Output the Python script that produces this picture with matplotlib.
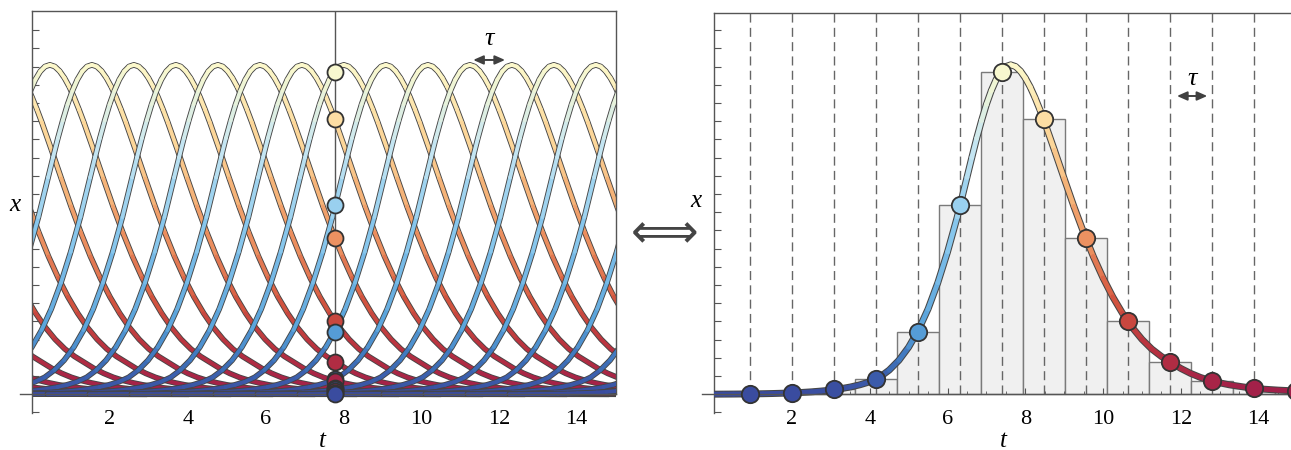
import numpy as np
import matplotlib
matplotlib.use("Agg")
import matplotlib.pyplot as plt
from matplotlib.collections import LineCollection
from matplotlib.colors import LinearSegmentedColormap
import matplotlib.transforms as mtransforms

# ---------------- data ----------------
# pulse shape x(t) (right panel); one y tick = 0.01
pulse_t = np.concatenate([np.arange(0.0, 6.5, 0.25),
                          np.arange(6.5, 8.5, 0.125),
                          np.arange(8.5, 22.01, 0.25)])
pulse_x = [0.00007, 0.00010, 0.00013, 0.00018, 0.00024, 0.00032, 0.00043, 0.00058,
           0.00077, 0.00102, 0.00135, 0.00178, 0.00233, 0.00306, 0.00400, 0.00524,
           0.00686, 0.00930, 0.01330, 0.01870, 0.02590, 0.03520, 0.04690, 0.06130,
           0.07820, 0.09740,
           0.1192, 0.1301, 0.1407, 0.1504, 0.1593, 0.1668, 0.1729, 0.1774,
           0.1801, 0.1810, 0.1801, 0.1776, 0.1738, 0.1689, 0.1630, 0.1564,
           0.14930, 0.13410, 0.11850, 0.10320, 0.08890, 0.07570, 0.06390, 0.05350,
           0.04450, 0.03670, 0.03020, 0.02490, 0.02080, 0.01750, 0.01420, 0.01150,
           0.00930, 0.00760, 0.00630, 0.00520, 0.00440, 0.00360, 0.00300, 0.00265,
           0.00230, 0.00205, 0.00180, 0.00160, 0.00140, 0.00120, 0.00110, 0.00100,
           0.00090, 0.00080, 0.00070, 0.00060, 0.00050, 0.00045, 0.00040, 0.00035,
           0.00030, 0.00025, 0.00020, 0.00018, 0.00015, 0.00012, 0.00010, 0.00008,
           0.00006, 0.00005, 0.00004, 0.00003, 0.00002, 0.00001, 0.00000]

# sampled points (dots / bars), spacing tau
dot_t = [0.92, 2.00, 3.08, 4.16, 5.24, 6.32, 7.40, 8.48, 9.56, 10.64, 11.72, 12.80, 13.88, 14.96]
dot_x = [0.0003, 0.0008, 0.0027, 0.0084, 0.0340, 0.1040, 0.1770, 0.1510, 0.0860, 0.0400,
         0.0180, 0.0073, 0.0033, 0.0020]
tau = 1.08
t_star = 7.79          # vertical cut in the left panel
peak_t = 7.625         # time of the pulse maximum

# time shifts of the copies drawn in the left panel
left_shifts = [12.27, 11.19, 10.11, 9.03, 7.95, 6.87, 5.79, 4.71, 3.63, 2.55, 1.47, 0.39,
               -0.69, -1.77, -2.85, -3.93, -5.01, -6.09, -7.17, -8.25, -9.33, -10.41,
               -11.49, -12.57, -13.65, -14.73, -15.81, -16.89, -17.97, -19.05]

xticks = [2, 4, 6, 8, 10, 12, 14]

# ---------------- styling ----------------
W, H = 1291, 450
SERIF = ['Liberation Serif', 'DejaVu Serif']
plt.rcParams['font.family'] = SERIF
GRAY = '#555555'

cmap = LinearSegmentedColormap.from_list('temp', [
    (0.00, '#3a4c9f'), (0.05, '#3d72ba'), (0.10, '#58a2da'), (0.26, '#8ccaee'),
    (0.38, '#c8e7f2'), (0.50, '#fcf9cc'), (0.60, '#fdd99c'), (0.70, '#f5b176'),
    (0.78, '#ea8a5c'), (0.86, '#d4573f'), (0.93, '#b8323f'), (1.00, '#a01f4a')])

pt = np.asarray(pulse_t)
px = np.asarray(pulse_x)
vmax = px.max()


def phase_param(t, v):
    v = np.asarray(v, float)
    rising = np.asarray(t) < peak_t
    return np.where(rising, 0.5 * v / vmax, 1.0 - 0.5 * v / vmax)


par = phase_param(pt, px)


def tube(ax, shift, lw_out, lw_in, z, xmin=-50, xmax=50):
    x = pt + shift
    m = (x >= xmin - 0.3) & (x <= xmax + 0.3)
    xs, ys, ps = x[m], px[m], par[m]
    if len(xs) < 2:
        return
    pts = np.column_stack([xs, ys]).reshape(-1, 1, 2)
    segs = np.concatenate([pts[:-1], pts[1:]], axis=1)
    cols = cmap(0.5 * (ps[:-1] + ps[1:]))
    ax.plot(xs, ys, color='#464646', lw=lw_out, solid_capstyle='round',
            solid_joinstyle='round', zorder=z)
    lc = LineCollection(segs, colors=cols, linewidths=lw_in, capstyle='round',
                        joinstyle='round', zorder=z + 0.01)
    ax.add_collection(lc)


def setup(ax, ytop, right_spine):
    ax.set_xlim(0, 15)
    ax.set_ylim(-0.01044, ytop)
    for s in ['top', 'left', 'right']:
        ax.spines[s].set_color(GRAY)
        ax.spines[s].set_linewidth(1.0)
    if right_spine:
        ax.spines['right'].set_bounds(0, ytop)
    else:
        ax.spines['right'].set_visible(False)
    ax.spines['bottom'].set_position(('data', 0))
    ax.spines['bottom'].set_visible(False)
    trans = mtransforms.blended_transform_factory(ax.transAxes, ax.transData)
    ax.plot([-12 / 583.3, 1.0], [0, 0], color=GRAY, lw=1.0, transform=trans,
            clip_on=False, zorder=6)
    ax.set_yticks(np.round(np.arange(-0.01, 0.2001, 0.01), 3))
    ax.set_yticklabels([])
    ax.set_xticks(xticks)
    ax.set_xticklabels([str(v) for v in xticks], fontsize=16, family=SERIF)
    ax.set_xticks(np.arange(0.5, 15, 0.5), minor=True)
    ax.tick_params(axis='y', direction='in', length=5, width=0.8, color=GRAY)
    ax.tick_params(axis='x', which='major', direction='in', length=4.5, width=0.8,
                   color=GRAY, pad=11)
    ax.tick_params(axis='x', which='minor', direction='in', length=2.5, width=0.6,
                   color=GRAY)
    ax.patch.set_alpha(0)


fig = plt.figure(figsize=(W / 100, H / 100), dpi=100)
axL = fig.add_axes([32.2 / W, 1 - 413.3 / H, 583.3 / W, (413.3 - 11.0) / H])
axR = fig.add_axes([714.2 / W, 1 - 413.3 / H, 583.3 / W, (413.3 - 13.3) / H])
ytopL = (394.3 - 11.0) / 1820
ytopR = (394.3 - 13.3) / 1820
setup(axL, ytopL, True)
setup(axR, ytopR, False)

# ---------------- left panel ----------------
for i, s in enumerate(sorted(left_shifts)):
    tube(axL, s, 4.1, 2.8, 2 + i * 0.02, 0, 15)
axL.plot([t_star, t_star], [0, ytopL], color=GRAY, lw=1.0, zorder=3.5)
order = np.argsort(dot_x)[::-1]
for k, j in enumerate(order):
    axL.plot(t_star, dot_x[j], 'o', ms=11.5, mfc=cmap(phase_param(dot_t[j], dot_x[j])),
             mec='#333333', mew=1.3, zorder=10 + k * 0.01, clip_on=False)
axL.annotate('', xy=(12.16, 0.1837), xytext=(11.34, 0.1837),
             arrowprops=dict(arrowstyle='<|-|>,head_length=0.5,head_width=0.22',
                             color='#404040', lw=1.4, shrinkA=0, shrinkB=0,
                             mutation_scale=12))
axL.text(11.75, 0.1950, 'τ', fontsize=19, style='italic', ha='center', va='center')

# ---------------- right panel ----------------
axR.bar(dot_t, dot_x, width=tau, color='#f0f0f0', edgecolor='#7a7a7a', lw=1.0, zorder=1)
axR.vlines(dot_t, 0, ytopR, colors='#666666', linestyles=(0, (6.5, 3.8)), lw=1.0, zorder=2)
tube(axR, 0.0, 5.0, 3.5, 3, 0, 15)
for j in range(len(dot_t)):
    axR.plot(dot_t[j], dot_x[j], 'o', ms=12.5, mfc=cmap(phase_param(dot_t[j], dot_x[j])),
             mec='#333333', mew=1.3, zorder=10, clip_on=False)
axR.annotate('', xy=(12.68, 0.1639), xytext=(11.90, 0.1639),
             arrowprops=dict(arrowstyle='<|-|>,head_length=0.5,head_width=0.22',
                             color='#404040', lw=1.4, shrinkA=0, shrinkB=0,
                             mutation_scale=12))
axR.text(12.29, 0.1735, 'τ', fontsize=19, style='italic', ha='center', va='center')

# ---------------- labels ----------------
fig.text(15 / W, 1 - 205 / H, 'x', fontsize=18, style='italic', ha='center', va='center')
fig.text(322 / W, 1 - 441 / H, 't', fontsize=18, style='italic', ha='center', va='center')
fig.text(696 / W, 1 - 201 / H, 'x', fontsize=18, style='italic', ha='center', va='center')
fig.text(1003 / W, 1 - 441 / H, 't', fontsize=18, style='italic', ha='center', va='center')
fig.text(665 / W, 1 - 230 / H, '⟺', fontsize=34, color='#444444', ha='center',
         va='center_baseline', family=['DejaVu Sans'])

fig.savefig('out.png', dpi=100)
